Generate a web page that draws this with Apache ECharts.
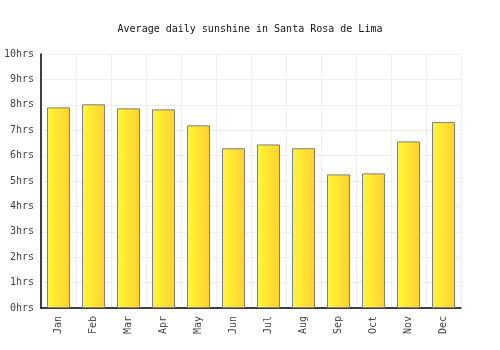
<!DOCTYPE html>
<html>
<head>
<meta charset="utf-8">
<script src="https://cdn.jsdelivr.net/npm/echarts@6/dist/echarts.min.js"></script>
<style>
  html, body { margin: 0; padding: 0; background: #fff; }
  #chart { width: 500px; height: 350px; }
</style>
</head>
<body>
<div id="chart"></div>
<script>
/* Sunshine chart data */
const months = ['Jan', 'Feb', 'Mar', 'Apr', 'May', 'Jun', 'Jul', 'Aug', 'Sep', 'Oct', 'Nov', 'Dec'];
const sunshineHours = [7.9, 8.02, 7.86, 7.82, 7.19, 6.29, 6.44, 6.29, 5.26, 5.3, 6.56, 7.32];
const yTicks = [0, 1, 2, 3, 4, 5, 6, 7, 8, 9, 10];

let chartDom = document.getElementById('chart');
let myChart = echarts.init(chartDom);

const font = "'DejaVu Sans Mono', monospace";

let option = {
    animation: false,
    title: {
        text: 'Average daily sunshine in Santa Rosa de Lima',
        left: 'center',
        top: 19,
        textStyle: {
            fontFamily: font,
            fontSize: 10,
            fontWeight: 'normal',
            color: '#111',
        },
    },
    grid: { left: 41, right: 39, top: 54, bottom: 42 },
    xAxis: {
        type: 'category',
        data: months,
        axisLine: { lineStyle: { color: '#000', width: 1.5 } },
        axisTick: { show: false },
        axisLabel: {
            rotate: 90,
            margin: 8,
            fontFamily: font,
            fontSize: 10,
            color: '#444',
        },
        splitLine: { show: true, interval: 0, lineStyle: { color: '#eeeeee' } },
    },
    yAxis: {
        type: 'value',
        min: yTicks[0],
        max: yTicks[yTicks.length - 1],
        interval: 1,
        axisLine: { show: true, lineStyle: { color: '#000', width: 1.5 } },
        axisTick: { show: false },
        axisLabel: {
            margin: 7,
            fontFamily: font,
            fontSize: 10,
            color: '#444',
            formatter: (v) => v + 'hrs',
        },
        splitLine: { show: true, lineStyle: { color: '#eeeeee' } },
    },
    series: [
        {
            type: 'bar',
            data: sunshineHours,
            barWidth: 23,
            itemStyle: {
                borderColor: '#808080',
                borderWidth: 1,
                color: new echarts.graphic.LinearGradient(0, 0, 1, 0, [
                    { offset: 0, color: '#fff833' },
                    { offset: 1, color: '#ffd034' },
                ]),
            },
        },
    ],
};

option && myChart.setOption(option);
</script>
</body>
</html>
